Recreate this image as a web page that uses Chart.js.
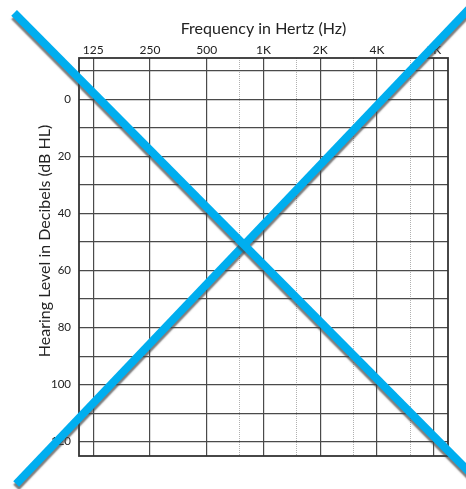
<!DOCTYPE html>
<html>
<head>
<meta charset="utf-8">
<script src="https://cdn.jsdelivr.net/npm/chart.js@4.4.1/dist/chart.umd.min.js"></script>
<style>
  html, body { margin: 0; padding: 0; background: #fff; overflow: hidden; }
</style>
</head>
<body>
<canvas id="audiogram" width="466" height="489"></canvas>
<script>
// Audiogram grid: octave frequencies across the top, hearing level (dB HL) down the side.
const frequencies = [125, 250, 500, 1000, 2000, 4000, 8000];
const frequencyLabels = ['125', '250', '500', '1K', '2K', '4K', '8K'];
const midOctaveFrequencies = [750, 1500, 3000, 6000];
const levelGridValues = [-10, 0, 10, 20, 30, 40, 50, 60, 70, 80, 90, 100, 110, 120];
const levelLabels = [0, 20, 40, 60, 80, 100, 120];

// The two strokes of the cross, as (frequency Hz, level dB HL) end points.
const crossFalling = [{ x: 47.6, y: -30.3 }, { x: 14096, y: 134.5 }];
const crossRising = [{ x: 48.8, y: 134.8 }, { x: 13426, y: -34.4 }];

const FREQ_MIN = 125 / Math.pow(2, 0.25);
const FREQ_MAX = 8000 * Math.pow(2, 0.25);
const LEVEL_MIN = -14.5;
const LEVEL_MAX = 125;

const FONT = 'Lato';
const TEXT = '#222';

// Frame, side title and the drop shadow under the cross strokes.
const decor = {
  id: 'decor',
  beforeDatasetsDraw(chart) {
    const ctx = chart.ctx;
    const a = chart.chartArea;
    ctx.save();
    ctx.strokeStyle = '#333';
    ctx.lineWidth = 1.8;
    ctx.strokeRect(a.left, a.top, a.right - a.left, a.bottom - a.top);
    ctx.restore();

    ctx.save();
    ctx.translate(49.5, 241);
    ctx.rotate(-Math.PI / 2);
    ctx.font = '16px ' + FONT;
    ctx.fillStyle = TEXT;
    ctx.textAlign = 'center';
    ctx.textBaseline = 'alphabetic';
    ctx.fillText('Hearing Level in Decibels (dB HL)', 0, 0);
    ctx.restore();

    ctx.save();
    ctx.shadowColor = 'rgba(70,70,70,0.7)';
    ctx.shadowOffsetX = 0;
    ctx.shadowOffsetY = 3.5;
    ctx.shadowBlur = 1.5;
  },
  afterDatasetsDraw(chart) {
    chart.ctx.restore();
  }
};

new Chart(document.getElementById('audiogram'), {
  type: 'scatter',
  data: {
    datasets: [
      { data: crossFalling },
      { data: crossRising }
    ].map(d => Object.assign(d, {
      showLine: true,
      borderColor: '#00aeef',
      borderWidth: 8,
      borderCapStyle: 'butt',
      pointRadius: 0,
      pointHoverRadius: 0,
      clip: false,
      xAxisID: 'x',
      yAxisID: 'y'
    }))
  },
  options: {
    responsive: false,
    animation: false,
    events: [],
    layout: { padding: { left: 0, top: 0, right: 18, bottom: 33 } },
    plugins: { legend: { display: false }, tooltip: { enabled: false } },
    scales: {
      x: {
        type: 'logarithmic',
        position: 'top',
        bounds: 'data',
        min: FREQ_MIN,
        max: FREQ_MAX,
        afterBuildTicks: s => { s.ticks = frequencies.map(v => ({ value: v })); },
        afterFit: s => { s.height = 58; },
        ticks: {
          autoSkip: false,
          maxRotation: 0,
          padding: 1,
          color: TEXT,
          font: { family: FONT, size: 12 },
          callback: v => {
            const i = frequencies.indexOf(v);
            return i < 0 ? '' : frequencyLabels[i];
          }
        },
        grid: { color: '#4a4a4a', lineWidth: 1.2, drawTicks: false },
        border: { display: false },
        title: {
          display: true,
          text: 'Frequency in Hertz (Hz)',
          color: TEXT,
          font: { family: FONT, size: 16 },
          padding: { top: 19, bottom: 0 }
        }
      },
      xMid: {
        type: 'logarithmic',
        position: 'top',
        bounds: 'data',
        min: FREQ_MIN,
        max: FREQ_MAX,
        afterBuildTicks: s => { s.ticks = midOctaveFrequencies.map(v => ({ value: v })); },
        afterFit: s => { s.height = 0; },
        ticks: { display: false },
        grid: { color: '#b0b0b0', lineWidth: 1, drawTicks: false },
        border: { display: false, dash: [1, 1] }
      },
      y: {
        type: 'linear',
        reverse: true,
        min: LEVEL_MIN,
        max: LEVEL_MAX,
        afterBuildTicks: s => { s.ticks = levelGridValues.map(v => ({ value: v })); },
        afterFit: s => { s.width = 79; },
        ticks: {
          autoSkip: false,
          padding: 8,
          color: TEXT,
          font: { family: FONT, size: 11.5 },
          callback: v => (levelLabels.includes(v) ? String(v) : '')
        },
        grid: { color: '#4a4a4a', lineWidth: 1.2, drawTicks: false },
        border: { display: false }
      }
    }
  },
  plugins: [decor]
});
</script>
</body>
</html>
